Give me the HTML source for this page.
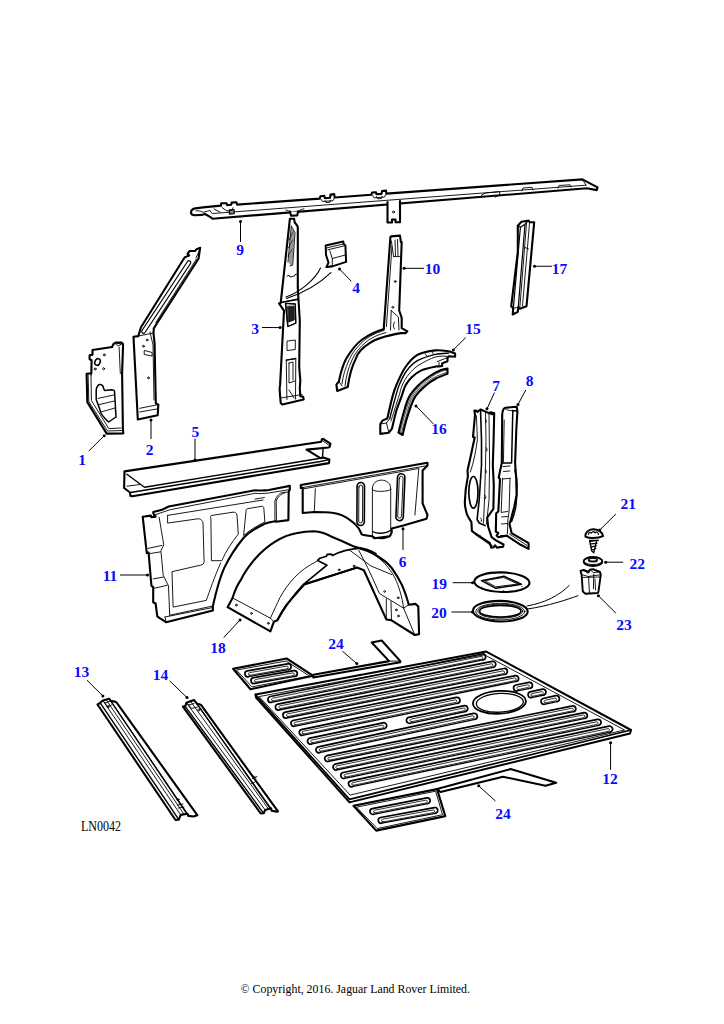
<!DOCTYPE html>
<html><head><meta charset="utf-8">
<style>
html,body{margin:0;padding:0;background:#fff;}
body{width:724px;height:1024px;overflow:hidden;position:relative;}
svg{position:absolute;left:0;top:0;}
.l{font-family:"Liberation Serif",serif;font-weight:bold;font-size:15.5px;fill:#0a0aff;text-anchor:middle;}
.o{fill:#fff;stroke:#000;stroke-width:2.1;stroke-linejoin:round;stroke-linecap:round;}
.t{fill:none;stroke:#000;stroke-width:0.9;stroke-linejoin:round;stroke-linecap:round;}
.m{fill:none;stroke:#000;stroke-width:1.4;stroke-linejoin:round;stroke-linecap:round;}
.ld{fill:none;stroke:#000;stroke-width:1;}
.d{fill:#000;}
.c{font-family:"Liberation Serif",serif;font-size:12px;fill:#000;}
</style></head>
<body>
<svg width="724" height="1024" viewBox="0 0 724 1024">
<g id="p9">
<path class="o" d="M191,212.8 C191,210 193,208.7 195.5,208.4 L203,207.4 L221,205.6 L221.2,203.3 L226.6,203.3 L227,205.1 L231.2,204.7 L231.6,202.6 L236.5,202.3 L237,204.6 L319.7,198.6 L320.5,196.2 L324.3,195.8 L324.9,198.2 L330.1,197.8 L330.5,194.6 L334.2,194.1 L334.6,197.5 L371.3,194.8 L372,192.5 L376,192.2 L376.5,194.3 L381.5,193.9 L382,191 L386,190.6 L386.4,193.6 L582.4,179.4 L597.6,187.4 L596.7,190.1 L586.8,188.3 L212.5,218.7 L210.9,217.4 L205,214 L201.7,214.9 L194.3,215.3 C192,215 191,214 191,212.8 Z"/>
<path class="t" d="M213,213.5 L586,185.2 M582.4,179.4 L586,185.2 M205,214 C203,211.5 200,210.5 196,210.8 M204,212 L210,210.5 L212,213.5 M214,209 L220,212 M222,207.6 L227,211 L232,210.5 L233,207.8 M481.4,197.6 L481.6,195 L485.6,193 L499.4,191.6 L500,194.4 L495.2,197.2 M522,190.8 L523,188 L532,187.3 L533,190 M558,188 L559,185.5 L570,184.8 L571,187 M321,199.2 L322.5,201.5 L333,200.7 L334.2,198.3 M325,200.5 L326,202.5 L330,202.2 L330.5,200.2 M372.6,195.4 L374,197.8 L384.5,197 L385.8,194.5 M376.5,196.6 L377.5,198.8 L381.5,198.5 L382,196.3"/>
<path class="m" d="M229.3,210 L234,209.6 L234.2,213.6 L229.5,214 Z" style="stroke-width:1.3"/>
<path class="o" d="M290,211.6 L291,215.7 L297.3,215.4 L298,211.6"/>
<path class="t" d="M286,210 C288,210.5 289,211 290,211.6 M298,211.6 C300,210 301,209.5 304,208.8"/>
<path class="o" d="M387.5,202 L387.5,222.5 L392,222.5 L392,219.5 L395.5,219.5 L395.5,222.3 L400,222.3 L400,201"/>
<circle class="t" cx="393.5" cy="212" r="1"/>
</g>
<g id="p2">
<path class="o" d="M200.2,247.7 L196.3,249.4 L195.2,251 L189.7,251 L187.5,253.8 L189.1,255.5 L185.2,257.1 L184.1,258.2 L141,327.3 L138.3,336.1 L133.5,336.8 L137.8,419.5 L157.7,415.2 L158.3,404.6 L155.8,403.3 L154.6,343.7 L153.5,333 L153.8,328.4 L156.5,324 L198.5,258.8 Z"/>
<path class="m" style="stroke-width:1.2" d="M187.5,261.5 L142.0,330.5 A1.8,1.8 0 0 0 145.0,332.5 L190.5,263.5 A1.8,1.8 0 0 0 187.5,261.5 Z"/>
<path class="t" d="M196.5,259 L155.8,322.5 M196,258 L199.5,250 M139.7,408.3 L158.3,404.6 M139.7,412 L157,409 M150,332 L153,345 L154,400 M138.5,336 L153.5,333"/>
<circle class="t" cx="147.1" cy="340" r="0.9"/><circle class="t" cx="143.4" cy="346.2" r="0.9"/><circle class="t" cx="148.4" cy="377.9" r="0.9"/>
<path class="t" d="M144.6,350.5 L152.1,352.5 L152.1,356.1 L144.6,354.5 Z"/>
</g>
<g id="p1">
<path class="o" d="M92.5,350 L112.1,347 L113.3,344.1 L115.6,342.6 L121.5,342.6 L123,344.1 L123,347 L122.1,374 L122.9,428.5 L123.3,433.4 L106.7,433.6 L87.3,402.1 L86.6,373.7 L91.3,373.4 L91.6,360.2 L89.6,359.3 L89.6,355.2 L92.5,354.6 Z"/>
<path class="t" d="M88.1,375.1 L88.8,401.5 L107.5,431 L122.9,430.5 M91,375.7 L91.4,400.5 L108.8,428.6 L121,428 M119.1,347 L120.3,373.4 L122.1,374 M91.3,373.4 L91,375.7"/>
<ellipse class="m" cx="97.5" cy="362" rx="2.6" ry="3.4" transform="rotate(25 97.5 362)" style="stroke-width:1.5"/>
<circle class="t" cx="104.2" cy="354.9" r="1"/><circle class="t" cx="95.1" cy="369" r="1"/><circle class="t" cx="103.6" cy="368.7" r="1"/>
<ellipse class="t" cx="118.5" cy="344.4" rx="2.4" ry="1"/>
<path class="m" d="M96.2,389.7 C97,386 99,384.3 100.4,384.5 C102.5,384.8 103.3,386.3 103.6,388 C104,389.5 104.3,390.3 104.5,390.4 L111.5,389.8 C113,389.8 114.3,390.3 114.5,391 L116,417 L108.6,422 C104,418 100,413 99.9,409.6 L96.2,399.6 Z" style="stroke-width:1.5"/>
<path class="t" d="M98,398.4 L114,395 M99,404.6 L114.5,401 M101,412 L115,408"/>
</g>
<g id="p3">
<path class="o" d="M289.9,218.7 L294.1,218.7 L294.6,222.4 C296,224 297.5,225.5 297.8,227.1 L297.8,287.4 L298.3,296.6 L299.8,320.8 L299.2,366.9 L300.3,380.4 L299.8,388.3 L300.3,396.1 L303.1,396.7 L303.7,399.5 L282.4,404.6 L280.7,402.9 L280.1,396.1 L279.6,388.3 L280.1,384.9 L284,310.7 L279,303.4 L280.7,302.9 Z"/>
<path class="t" d="M291.3,226.1 L295,232.6 L292.7,265.1 L290,266 M291.3,226.1 L288,262 M289,240 L293,232 M288.5,248 L292.5,240 M288,256 L292.3,249 M287,276 L289.5,275.5 L290,277 L294.5,276 L295,274.5 L297,274.2 M283,302 L297.5,299 M285.7,303.4 L295.3,304 L295.8,323.1 L288,326.5 Z M288,306.2 L294.2,306.2 L294.2,320 L288.5,322 Z M287.4,341 L295.3,340 L295.3,349.5 L287.4,350.5 Z M286.3,360.2 L295.8,358.5 L295.5,399 M286.3,360.2 L286.9,399.5 M289,363 L293,362 L293,380 M289,363 L289,383 L295,381 M289,390 L294,398 M281,398 L302,394.5"/>
<path d="M288.6,307 L293.6,307 L293.6,319.5 L288.9,321.3 Z" fill="#222" stroke="#000" stroke-width="0.8"/>
<path class="m" d="M285.7,303.4 L295.3,304 L295.8,323.1 L288,326.5 Z M286.3,360.2 L295.8,358.5 M281,302.5 L297.5,299.5" style="stroke-width:1.3"/>
<path d="M291.6,227 L294.5,232.5 L292.5,264.5 L290.2,265.5 L288.5,262 Z" fill="#555" stroke="none" opacity="0.6"/>
</g>
<g id="p4">
<path class="o" d="M325.7,245.4 L343.3,241.6 L343.7,244 L345.4,245.4 L346.1,261.9 L332.3,266.4 L326.4,267.1 L328.5,262.6 L326,255 Z" style="stroke-width:2"/>
<path class="t" d="M327.1,247.8 L343.3,244 M327.8,249.8 L343.7,246 M329.8,250.9 L332.3,258.5 L332.3,266.4 M332.3,258.5 L345.4,255 M326.5,267 L332.3,265.5"/>
<path class="m" d="M320.5,268.1 C315,280 300,292 286,297 M330.9,272.6 C318,285 300,294 286.5,298.5" style="stroke-width:1.1"/>
</g>
<g id="p10">
<path class="o" d="M390.4,237.2 L391,236.4 L400,235.6 L400.9,242.1 L401.7,242.1 L399.2,310.5 L401.7,317.8 L401.7,328.2 L407.3,331.4 L405.7,333.1 L400.9,333.1 C385,336 375,339 370.3,342.7 C362,348 357,354 355.8,358.8 C351,368 349,378 347.7,387 L337.2,391 L336.4,384.6 L338.9,381.4 C341,371 343,365 346.1,358.8 C352,349 356,344 362.2,339.5 C370,334 377,331 383.9,329 L383.9,326.6 Z"/>
<path class="t" d="M392,246.1 L386.4,326.6 M393.6,256.6 L400,256.6 M391.5,241 L392,246.1 L393.6,256.6 M395,240 L395.5,256 M397.5,239.5 L398,256 M391.2,310.5 L398.4,317 L399,330 M391.2,310.5 L390.5,330 M384,330.5 C375,333 368,337 363.5,341 C357,347 352,353 349,360 C345,369 343,376 342,384 M386,332.5 C377,335 371,338 366,342 C360,347 355,353 352,360 C348,369 346,377 345,386 M338.9,381.4 L342,386 M394.5,322 C393,325 393,327 394.5,329"/>
<circle class="t" cx="395.2" cy="281.5" r="0.9"/><circle class="t" cx="392.8" cy="307.3" r="0.9"/>
</g>
<g id="p17">
<path class="o" d="M517.8,225.8 L521.4,221.7 L528.6,220.6 L529.6,222.2 L534.2,222.2 L526.5,306.3 L519.9,308.8 L518.3,307.3 L517.8,311.9 L512.7,314.5 L513.2,308.3 L511.2,306.3 L517.8,251.9 Z"/>
<path class="m" d="M520.4,227.3 L513.5,306.5 M525,224.2 L518.3,307.3 M517.8,225.8 L520.4,227.3 L525,224.2 L528.6,220.6" style="stroke-width:1.2"/>
<path class="t" d="M529.6,222.2 L522.5,306 M526.5,223.5 L519.9,306.8 M525,247.5 L528.5,249 M513.2,308.3 L518.3,307.3"/>
</g>
<g id="p15">
<path class="o" d="M387.4,418 C388.2,414.6 390.8,402.9 392.3,397.4 C393.8,391.9 394.2,390.1 396.4,385 C398.6,379.9 402.0,372.0 405.5,367 C409.0,362.0 412.4,357.7 417.4,354.9 C422.4,352.1 430.1,351.0 435.4,350.4 C440.6,349.8 446.6,351.1 448.9,351.3 L455.1,353.5 L455.1,356.7 L448.9,356.2 L447.5,357.6 L447.5,361.2 L442.1,363.4 L442.1,366 L439,366.5 L437.2,366.2 437.2,366.2 C434.6,366.9 426.1,368.3 421.9,370.1 C417.7,371.9 414.7,374.5 412,377 C409.3,379.5 407.5,381.6 405.7,385 C403.9,388.4 402.8,392.9 401.2,397.4 C399.6,401.9 397.5,406.8 396,412 C394.5,417.2 392.7,425.8 392,428.6 L388.8,432.7 L380.3,433.9 L380.3,424 L382.7,420.4 L386.8,418.7 Z"/>
<path class="m" d="M389.7,418.7 C390.6,415.1 393.8,403.0 395.4,397.4 C397.0,391.8 397.3,389.4 399.2,385 C401.1,380.6 403.5,375.1 406.5,371 C409.5,366.9 412.6,363.5 417.4,360.7 C422.2,357.9 430.1,355.7 435.4,354.4 C440.6,353.1 446.6,353.3 448.9,353.1"/>
<path class="t" d="M391,421 C392.2,417.1 396.6,403.4 398.5,397.4 C400.4,391.4 400.6,388.9 402.3,385 C404.1,381.1 406.2,377.3 409,374 C411.8,370.7 414.6,367.8 419,365 C423.4,362.2 430.7,358.4 435.4,357 C440.1,355.6 445.1,356.4 447,356.3"/>
<path class="t" d="M380.3,424 L386.5,423 L389.7,418.7 M386.5,423 L388.8,432.7 M437.2,361.6 L447.5,357.6 M439,362.5 L439,366.5 M425,353.5 L427,356 M432,352 L433.5,354"/>
</g>
<g id="p16">
<path class="o" d="M398.5,432.7 C399.2,429.8 401.3,420.9 403,415 C404.7,409.1 406.2,402.4 408.8,397.4 C411.4,392.4 415.3,388.6 418.8,385 C422.3,381.4 426.5,378.4 430,376 C433.5,373.6 437.1,371.7 440,370.5 C442.9,369.3 446.2,368.9 447.5,368.6 L447.5,373.7 L447.5,373.7 C445.6,374.5 439.5,376.6 436,378.5 C432.5,380.4 429.9,381.9 426.4,385 C422.8,388.1 417.9,391.9 414.7,397.4 C411.5,402.9 409.0,411.7 407,418 C405.0,424.3 403.3,432.2 402.6,435 Z"/>
<path class="t" d="M399.8,433.4 C400.6,430.5 402.7,421.8 404.5,415.8 C406.3,409.8 408.0,402.5 410.8,397.4 C413.6,392.3 417.8,388.5 421.3,385 C424.8,381.5 428.7,378.8 432,376.5 C435.3,374.2 438.4,372.6 441,371.5 C443.6,370.4 446.4,370.4 447.5,370.2 M401.2,434.2 C402.0,431.3 404.0,422.9 405.9,416.8 C407.8,410.7 409.4,402.7 412.3,397.4 C415.2,392.1 420.0,388.3 423.6,385 C427.2,381.7 430.0,379.7 434,377.5 C438.0,375.3 445.2,372.9 447.5,372" style="stroke-width:0.7"/>
</g>
<g id="p7">
<path class="o" d="M474.4,410.5 L476.7,410.9 L477.4,411.9 L480.5,409.5 L488.4,412.9 L490.8,412.3 L494.2,413.3 L493.6,440 L492.8,465 L493.8,485.2 L493.4,508.9 L490.8,512.5 L487.2,517.7 L488.1,526.5 L491.6,537.1 L495.6,540.1 L503.5,544.5 L503.1,546.7 L496.9,547.6 L495.1,545.4 L493.8,547.2 L491.2,547.6 L489.9,543.2 L474.1,532.7 L471.9,530.9 L471.4,522.1 C468,517 466.5,514 466.2,511.6 C465,507 464.8,504 464.8,501.9 C465,493 466.5,483 467.9,476.4 L467.5,470.4 C470,460 472,450 474.7,437.5 L473,436.9 L475,415 Z"/>
<path class="t" d="M476.4,415.7 L477.4,439.6 C476,450 474,462 470.3,472 M485.5,412 L486,440 L485.5,465 L484.5,500 L483.5,523 M489,413 L489.6,465 L489,500 L486.5,524 M473.2,531.8 L492.5,545.8 M474.8,534.2 L491,545.5 M485.3,419 L486.3,420.5 L486,422.5 M486,447.5 L487,449 L486.8,451 M485.3,469.5 L486.3,471 L486,473 M484.8,495 L485.8,496.5 L485.5,498.5 M480.5,518 L481.5,519.5 L481.2,521.5 M479,537 L480,535.5"/>
<path class="m" d="M480.5,409.5 L481.5,440 L481.5,465 L479.2,500 L477.1,519.5 L479.3,523 L485,525.6 M494.2,413.3 L492.5,414.5 L488.4,412.9" style="stroke-width:1.6"/>
<ellipse class="m" cx="473.4" cy="492.3" rx="4.6" ry="15.8" style="stroke-width:1.7"/>
</g>
<g id="p8">
<path class="o" d="M502.2,414.5 C502.5,410 503.5,408.2 505.5,407.8 L516.7,406.7 L517.4,411.4 L516.3,430 L515.1,462.9 L516.2,478.3 L516.6,494.9 L514.1,507.4 L510.8,519.8 L509.5,524 L511.6,533.1 L528.6,543.1 L528.6,548.9 L520.7,544.8 L506.6,535.6 L498.3,537.3 L496.6,535.6 L498.3,533.1 L495.8,531.5 L496.2,513.2 L498.3,511.5 L500,479.1 L498.7,477.5 L501.8,462.9 Z"/>
<path class="m" d="M512.8,410.6 L511.6,462.9 M517,411 L512.8,410.6 M501.8,462.9 L511.6,462.9 M514.9,470 C516.5,476 517.2,482 517,486.6 C516.8,495 516.5,502 515.7,507.4 C514.5,513 513,518 511.6,521.5" style="stroke-width:1.5"/>
<path class="t" d="M504.2,420 L503.4,462.2 M505,408.5 C507,410.5 510,410.8 512.8,410.6 M502.5,478.3 L501.2,511.5 M510,478.3 L509.1,511.5 L507.9,519.8 L507.4,534 M501.2,512.4 L507.9,511.5 M502.5,479 L510,478.3 M503,466.5 L510,466 M503.5,471.5 L509.8,471 M501.5,517 L507.5,516.5 M501.5,524 L507.5,523.5 M509.5,534 L527,545.5 M500.5,535.5 L506.6,535.6"/>
</g>
<g id="p5">
<path class="o" d="M124.5,471.4 L321.4,441.7 L321.8,439.3 L323.1,438.9 L330.4,443.7 L329.7,446.8 L328.7,447.5 L306.6,449.6 L320.4,458.2 L323.1,457.6 L329.4,459.6 L329,463.1 L132.4,496.3 L130.4,495.9 L130,492.5 L124.1,488 Z"/>
<path class="m" d="M126.9,474.2 L144.5,487.3 L320.4,458.2 M323.1,449.3 L322.5,456.9 M130.4,492.5 L320.4,461.5 L329.4,459.6" style="stroke-width:1.4"/>
<path class="t" d="M126.9,486.2 L140,484.5 M323.1,441 L328.7,445.1"/>
</g>
<g id="p6">
<path class="o" d="M300.8,485 L427.5,462.7 L427.5,465.6 L422.6,470.5 L422.6,503.3 L427.5,515 L426.5,518.8 L403.3,525.6 L391.7,528.5 L391.7,532.4 L389.8,536.2 L374.3,538.2 L372.4,536.2 C366,535.5 363,535 361.7,534.3 C360,531 359.5,529.5 358.8,528.5 C356,524.5 353,522 351.1,520.8 C345,516 340,514 333.7,513 C326,512 320,512 314.3,512 L302.7,513 L302.7,487.9 L300.8,487.9 Z"/>
<path class="t" d="M303.7,488.8 L418.8,468.5 L414.9,515 M300.8,487.9 L427.5,465.6 M315.3,488.8 L314.3,512 M372.4,488.8 L372.4,536.2 M390.7,488.8 L390.7,531 M372.4,488.8 C372.4,483 376,480.5 381.5,480.1 C387,480.5 390.7,483 390.7,488.8"/>
<path class="m" style="stroke-width:1.6" d="M357.1,486.2 L356.9,521.8 A3.7,3.7 0 0 0 364.3,521.8 L364.5,486.2 A3.7,3.7 0 0 0 357.1,486.2 Z M397.5,477.3 L395.9,516.9 A3.7,3.7 0 0 0 403.3,517.1 L404.9,477.5 A3.7,3.7 0 0 0 397.5,477.3 Z"/>
<path class="t" d="M358.9,487.0 L358.7,521.0 A1.9,1.9 0 0 0 362.5,521.0 L362.7,487.0 A1.9,1.9 0 0 0 358.9,487.0 Z M399.3,478.1 L397.7,516.1 A1.9,1.9 0 0 0 401.5,516.3 L403.1,478.3 A1.9,1.9 0 0 0 399.3,478.1 Z"/>
<path class="t" d="M372.4,490 C376,492 387,492 390.7,489.5"/>
<path class="m" d="M372.6,531.5 C377,534 386,534 390.5,530.5 M372.4,536.2 C377,539.5 386,539.5 390.7,535.3" style="stroke-width:1.3"/>
</g>
<g id="p11">
<path class="o" d="M153.3,512 L162.1,509.8 L168.7,506.5 L255,490.3 C260,490.6 265,490.6 268.8,490 L289.8,485.9 L289.8,489.5 L288.7,492 L288.4,520.1 L276,521.8 L275.2,521.2 C268,522.5 266,523 263.8,524.2 C254,529 249,532 243.9,537.5 C235,548 229,558 224,568.4 C219,580 216,592 212.9,606 L212.9,610.4 L166.1,622.2 L159.7,618.1 L157.3,616.4 L155.6,603.5 L153.2,602.3 L153.2,587.1 L151.5,585.9 L150.9,580 L148.6,552.5 L146.8,553.1 L142.7,516.7 L150.9,515.6 L151.5,517.3 L155.6,516.7 L153.3,513.5 Z"/>
<path class="t" d="M153.3,515.4 L169.8,509.8 L255,493.3 C260,493.8 265,493.5 268.8,493 L289.8,489.5 M159.1,517.3 L163.8,544.9 L160.9,550.7 L163.2,575.3 L168.5,585.9 L169.7,615.2 M169.7,615.2 L212.9,606 M148,548.4 L162,545.4 M149.1,553.7 L160.3,551.9 M153.2,578.9 L163.2,577.1 M154.4,588.2 L167.3,585.3 M165,617 L212.9,607.5 M166.1,622.2 L165,617 M274.9,521 L274.9,501.3 C275.5,498 277.5,495.5 280.4,493.2 C282,492.5 284,492.3 285.9,492.2 L288.7,492 M276.5,521 L276.2,501.3 C277,498.5 278.7,496.5 280.8,494.7 C282.5,493.6 284,493.1 285,492.8 M255,499.1 L264.4,497.5"/>
<path class="t" d="M167.6,515.4 L167.6,523.1 L198.6,518.7 C201,519 203,521 203,523.1 L204.1,561.8 C204,563.5 202.5,565 200.8,565.1 L172,571.7 L173.1,607.1 L206.3,600.4 C210,590 214,578 220.7,562.9 M167.6,515.4 L263,500 M210.7,518 C210,516.5 211,515.5 212,515.4 L233,512.2 C235,512 236.8,513 237,515 L238.3,534.1 C232,542 226,551 221.8,560.7 L211.8,560.7 Z M246.1,510 C246,509 247,508.7 248,508.6 L261.8,506.3 C263,506.2 263.8,507 263.8,508 L264.9,522 C256,526 249,531 243.9,535.2 Z"/>
</g>
<g id="p18">
<path class="o" d="M227.6,607.2 L232.4,598.2 C235,590 238,584 240.7,580.2 C245,571 250,565 254.5,559.5 C261,552 268,546 275.2,541.6 C282,537.5 289,534.5 296,533.3 C302,532 308,531.2 313.9,531.2 C320,531.5 326,533.5 330.5,536.2 C338,539 345,542.5 352.6,545.9 C360,548.5 367,550.5 373,553.5 C381,558 387,562 391.5,567.6 C396,574 399.5,580 401.9,584.9 C404,590 406,595 407,598.7 L408.8,604.7 L415.7,603.9 L418.3,606.5 L419.1,634.1 L414.8,635 L391.5,620.3 L386.3,619.4 L363.9,570.2 L357,567.6 L304.3,584.4 C297,592 291,600 286.3,605.1 C283,610 280,615 277.3,620.3 L273.9,621.7 L270.4,631.4 Z"/>
<path class="t" d="M233.1,598.2 L270.4,618.2 L273.9,621.7 M270.4,618.2 C274,610 277,604 280,597.5 C288,583 299,570 316.5,561.5 M350,550.4 L370.8,565.9 L391.5,574.5 M358.7,550.4 C364,560 370,572 379.4,593.5 L403.6,608.2 L408.8,604.7 M386.3,598.7 L386.3,619.4 M391,601.5 L391.5,620.3 M403.6,608.2 L414.8,635 M360.4,547.5 C375,553 387,563 395,578 C399,587 402,596 403.6,608.2"/>
<path class="m" style="stroke-width:1.7" d="M277.3,620.3 C283,610 292,597 303.8,584.2 L327,565.2 L317.6,560.4 L319.9,558.2 L326.4,556.2 L327.3,554.4 L331.5,554.2 L332.5,555.6 C340,551.5 350,549 360,548.2 C366,548.5 371,551 376,553.8 M303.8,584.2 L357,567.6"/>
<circle class="t" cx="236.3" cy="605.1" r="0.9"/><circle class="t" cx="251.5" cy="613.4" r="0.9"/><circle class="t" cx="268.3" cy="623.3" r="0.9"/>
<circle class="t" cx="339.1" cy="569.8" r="0.9"/><circle class="t" cx="354" cy="566" r="0.9"/><circle class="t" cx="384.6" cy="591.5" r="0.9"/><circle class="t" cx="398.1" cy="597.8" r="0.9"/><circle class="t" cx="396.3" cy="610" r="0.9"/><circle class="t" cx="398.4" cy="616" r="0.9"/>
</g>
<g id="p13"><path class="o" d="M97.5,704.5 L100.2,702.8 L102.8,700.4 L109.1,698.7 L110.7,700.8 L114.9,701.6 L116.5,702.4 L197.3,815.2 L193.5,816.5 L188.3,815.9 L187.6,813.8 L180.7,814.9 L178.8,819.6 L175.5,820 Z"/><path class="m" d="M100.2,702.8 L178.8,819.6"/><path class="t" d="M102.8,700.4 L180.7,814.9"/><path class="t" d="M109.1,698.7 L187.6,813.8"/><path class="m" d="M110.7,700.8 L188.3,815.9"/><path class="t" d="M106,699.5 L184,814.3 M102.8,700.4 L105,703 L110.7,700.8 M105,703 L107,706.5 L111.5,705"/><circle class="t" cx="108" cy="706.8" r="1"/><circle class="t" cx="178" cy="799.7" r="1"/><path class="t" d="M177.5,805 L183,804 M178.5,808 L184,807"/></g>
<g id="p14"><path class="o" d="M182.9,706.6 L185.2,706.3 L186.4,702.8 L194,700 L197.1,703.8 L200.2,704.5 L201.2,705.2 L278,811.4 L276.5,811.6 L271.8,810.7 L271.1,808.3 L265.2,810 L263.6,813.3 L260.7,813.5 Z"/><path class="m" d="M185.2,706.3 L263.6,813.3"/><path class="t" d="M186.4,702.8 L265.2,810"/><path class="t" d="M194,700 L271.1,808.3"/><path class="m" d="M197.1,703.8 L271.8,810.7"/><path class="t" d="M190.5,701.3 L268.5,809 M186.4,702.8 L189,705 L194,703.5 M189,705 L191.5,708.5 L197.5,707"/><circle class="t" cx="198.8" cy="710" r="1"/><path class="t" d="M250.5,774 L256,778 M252.5,778.5 L257,776.5 M251.5,783.5 L255,782"/></g>
<g id="p19">
<ellipse class="o" cx="501.9" cy="582.2" rx="27.6" ry="9.8" transform="rotate(1.5 501.9 582.2)"/>
<path class="m" d="M481.5,580.7 L503.9,576.2 L521.4,584.3 L495.8,588.3 Z" style="stroke-width:1.5"/>
<path class="t" d="M485,580.5 L503.5,577.5 L518,584 L496,586.8 Z"/>
<circle class="d" cx="500.5" cy="572.8" r="0.6"/><circle class="d" cx="482" cy="587" r="0.6"/><circle class="d" cx="503.5" cy="590.8" r="0.6"/><circle class="d" cx="522" cy="586.5" r="0.6"/>
</g>
<g id="p20">
<ellipse class="o" cx="500.3" cy="611.2" rx="27.4" ry="10.3" transform="rotate(1 500.3 611.2)"/>
<ellipse class="t" cx="500.3" cy="611.6" rx="24.5" ry="8.3"/>
<ellipse class="t" cx="500.3" cy="611.2" rx="22.5" ry="7"/>
<ellipse class="m" cx="500.3" cy="611.2" rx="20.7" ry="5.9" style="stroke-width:1.7"/>
<path class="m" d="M527,606 C545,603 560,595 569.2,585.5 M527.5,609 C548,606 566,600 578,595.7" style="stroke-width:1"/>
</g>
<g id="p21">
<path class="o" d="M585.4,536.6 C585,533 588,529.5 593,529.3 C598,529.2 602.5,532 603.1,536.2 C600,537.6 596,538 593,538 C590,538 587.5,537.7 585.4,536.6 Z" style="stroke-width:1.9"/>
<path class="m" d="M588.3,534.3 C589,532 590.5,531.8 591.5,533 C592.5,531.3 594,531.3 595,532.8 C596,531.5 598,532 598.5,534.3" style="stroke-width:1.2"/>
<path class="m" d="M589.8,540.3 L598.4,540.3 M589.6,540.5 L591.8,551 L593.75,552.8 L596.5,541 M589.5,541.5 L597.8,540.2 M590,544.2 L597,543 M590.7,547.2 L596.3,545.8 M591.3,550 L595.8,548.6" style="stroke-width:1.3"/>
</g>
<g id="p22">
<ellipse class="o" cx="593" cy="561.5" rx="9.4" ry="4.5" style="stroke-width:1.9"/>
<path class="t" d="M583.8,561.5 C585,563.5 589,564.5 593,564.5 C597,564.5 601,563.5 602.2,561.5"/>
<ellipse cx="592.9" cy="559.9" rx="4.4" ry="1.7" fill="#fff" stroke="#000" stroke-width="1.6"/>
<path d="M589,560.5 C591,561.6 595,561.6 597,560.5" stroke="#000" stroke-width="1.1" fill="none"/>
</g>
<g id="p23">
<path class="o" d="M580.5,570.8 L583.6,570 L588.7,572 L589.8,569.6 L593,569.2 L600,572 L600.8,574.7 L598.4,591.9 L597.7,593 L585.5,593.8 L582.8,591.5 L581.6,574.7 Z" style="stroke-width:1.9"/>
<path class="t" d="M581.6,574.7 L588.5,576.5 L600.8,574.7 M582.8,577.4 L600,577 M588.5,576.5 L589.5,593.5 M593.75,573.9 L593.4,588.75 M590,569.8 L593.5,572.5 L600,572 M583.6,570 L588,573.5 M595,579 L595.5,590"/>
</g></g>
<g id="p12">
<path class="o" d="M255.5,694.5 L486.2,651.6 L631,730 L630,733.5 L349.5,802.4 L256.0,697.5 Z" style="stroke-width:2"/>
<path class="m" style="stroke-width:1.7" d="M255.5,694.5 L349.5,799.4 L631,730" />
<path class="t" d="M259.5,696.5 L484.5,654.8 L624.5,730 L350.5,795 Z"/>
<path class="t" style="stroke-width:1.3" d="M271.5,702.4 L483.1,659.9 M279.0,710.0 L493.3,667.3 M286.5,718.0 L504.9,674.4 M294.1,726.3 L516.7,681.4 M302.4,735.4 L457.5,703.3 M311.2,744.1 L384.3,728.7 M410.1,723.3 L465.8,711.5 M319.6,752.7 L474.9,719.3 M327.9,761.5 L573.9,711.7 M336.2,770.0 L585.4,718.4 M344.5,778.4 L598.7,725.3 M352.2,786.7 L610.2,732.1 M517.2,690.9 L530.0,688.3 M531.3,697.7 L544.0,695.0 M544.3,704.3 L557.0,701.6"/>
<path class="m" style="stroke-width:1.7" d="M483.1,659.9 A3.0,3.0 0 0 0 482.0,654.0 L270.4,696.5 A3.0,3.0 0 0 0 271.5,702.4 M493.3,667.3 A3.0,3.0 0 0 0 492.2,661.4 L277.9,704.1 A3.0,3.0 0 0 0 279.0,710.0 M504.9,674.4 A3.0,3.0 0 0 0 503.8,668.5 L285.4,712.1 A3.0,3.0 0 0 0 286.5,718.0 M516.7,681.4 A3.0,3.0 0 0 0 515.5,675.6 L292.9,720.5 A3.0,3.0 0 0 0 294.1,726.3 M457.5,703.3 A3.0,3.0 0 0 0 456.3,697.4 L301.2,729.6 A3.0,3.0 0 0 0 302.4,735.4 M384.3,728.7 A3.0,3.0 0 0 0 383.0,722.8 L309.9,738.2 A3.0,3.0 0 0 0 311.2,744.1 M465.8,711.5 A3.0,3.0 0 0 0 464.5,705.7 L408.8,717.4 A3.0,3.0 0 0 0 410.1,723.3 M474.9,719.3 A3.0,3.0 0 0 0 473.6,713.4 L318.3,746.8 A3.0,3.0 0 0 0 319.6,752.7 M573.9,711.7 A3.0,3.0 0 0 0 572.7,705.9 L326.7,755.7 A3.0,3.0 0 0 0 327.9,761.5 M585.4,718.4 A3.0,3.0 0 0 0 584.2,712.6 L335.0,764.2 A3.0,3.0 0 0 0 336.2,770.0 M598.7,725.3 A3.0,3.0 0 0 0 597.4,719.4 L343.2,772.5 A3.0,3.0 0 0 0 344.5,778.4 M610.2,732.1 A3.0,3.0 0 0 0 608.9,726.2 L350.9,780.8 A3.0,3.0 0 0 0 352.2,786.7 M530.0,688.3 A3.0,3.0 0 0 0 528.8,682.4 L516.0,685.0 A3.0,3.0 0 0 0 517.2,690.9 M544.0,695.0 A3.0,3.0 0 0 0 542.7,689.2 L530.0,691.9 A3.0,3.0 0 0 0 531.3,697.7 M557.0,701.6 A3.0,3.0 0 0 0 555.7,695.7 L543.0,698.5 A3.0,3.0 0 0 0 544.3,704.3"/>
<path class="t" style="stroke-width:0.8" d="M272.8,700.9 L481.6,659.1 A1.35,1.35 0 0 0 481.1,656.4 L272.3,698.3 A1.35,1.35 0 0 0 272.8,700.9 Z M280.3,708.5 L491.8,666.5 A1.35,1.35 0 0 0 491.3,663.8 L279.8,705.9 A1.35,1.35 0 0 0 280.3,708.5 Z M287.8,716.5 L503.4,673.6 A1.35,1.35 0 0 0 502.9,670.9 L287.3,713.9 A1.35,1.35 0 0 0 287.8,716.5 Z M295.4,724.9 L515.1,680.6 A1.35,1.35 0 0 0 514.6,677.9 L294.9,722.3 A1.35,1.35 0 0 0 295.4,724.9 Z M303.7,734.0 L455.9,702.4 A1.35,1.35 0 0 0 455.4,699.8 L303.2,731.3 A1.35,1.35 0 0 0 303.7,734.0 Z M312.4,742.7 L382.7,727.9 A1.35,1.35 0 0 0 382.2,725.2 L311.9,740.0 A1.35,1.35 0 0 0 312.4,742.7 Z M411.3,721.8 L464.2,710.7 A1.35,1.35 0 0 0 463.7,708.0 L410.8,719.2 A1.35,1.35 0 0 0 411.3,721.8 Z M320.8,751.3 L473.3,718.4 A1.35,1.35 0 0 0 472.8,715.8 L320.3,748.6 A1.35,1.35 0 0 0 320.8,751.3 Z M329.2,760.1 L572.3,710.9 A1.35,1.35 0 0 0 571.8,708.2 L328.7,757.5 A1.35,1.35 0 0 0 329.2,760.1 Z M337.5,768.6 L583.8,717.6 A1.35,1.35 0 0 0 583.3,714.9 L337.0,765.9 A1.35,1.35 0 0 0 337.5,768.6 Z M345.7,777.0 L597.1,724.4 A1.35,1.35 0 0 0 596.6,721.8 L345.2,774.3 A1.35,1.35 0 0 0 345.7,777.0 Z M353.4,785.3 L608.6,731.2 A1.35,1.35 0 0 0 608.1,728.6 L352.9,782.6 A1.35,1.35 0 0 0 353.4,785.3 Z M518.5,689.5 L528.4,687.4 A1.35,1.35 0 0 0 527.9,684.8 L518.0,686.8 A1.35,1.35 0 0 0 518.5,689.5 Z M532.5,696.3 L542.4,694.2 A1.35,1.35 0 0 0 541.9,691.6 L532.0,693.6 A1.35,1.35 0 0 0 532.5,696.3 Z M545.5,702.9 L555.4,700.8 A1.35,1.35 0 0 0 554.9,698.1 L545.0,700.3 A1.35,1.35 0 0 0 545.5,702.9 Z"/>
<ellipse class="m" cx="499.4" cy="702.3" rx="26.5" ry="11.4" transform="rotate(-3 499.4 702.3)" style="stroke-width:1.8"/>
<ellipse class="t" cx="499.8" cy="702.8" rx="23.5" ry="9.4" transform="rotate(-3 499.4 702.3)" style="stroke-width:1.3"/>
</g>
<g id="p24a">
<path class="o" d="M233.1,668.7 L286.6,658.5 L313.3,675.8 L250.5,689.2 Z"/>
<path class="t" d="M236.8,670 L286,661 L309.5,676 L252.4,686.8 Z"/>
<path class="t" style="stroke-width:1.3" d="M248.4,676.7 L288.6,669.6"/><path class="m" style="stroke-width:1.7" d="M288.6,669.6 A2.9,2.9 0 0 0 287.6,663.8 L247.4,670.9 A2.9,2.9 0 0 0 248.4,676.7"/><path class="t" style="stroke-width:0.8" d="M249.8,675.3 L287.0,668.8 A1.35,1.35 0 0 0 286.6,666.1 L249.3,672.7 A1.35,1.35 0 0 0 249.8,675.3 Z"/><path class="t" style="stroke-width:1.3" d="M254.5,683.5 L294.8,676.4"/><path class="m" style="stroke-width:1.7" d="M294.8,676.4 A2.9,2.9 0 0 0 293.8,670.6 L253.5,677.7 A2.9,2.9 0 0 0 254.5,683.5"/><path class="t" style="stroke-width:0.8" d="M255.9,682.1 L293.2,675.6 A1.35,1.35 0 0 0 292.8,672.9 L255.4,679.5 A1.35,1.35 0 0 0 255.9,682.1 Z"/>
<path class="o" d="M313.3,674.8 L389.1,661.1 L371.7,642.5 L381.7,640.5 L400.3,661.1 L400.3,662.3 L313.3,677.5 Z"/>
<path class="t" d="M389.1,661.1 L400.3,661.1"/>
</g>
<g id="p24b">
<path class="o" d="M353.5,805.7 L437,789.1 L445.3,816.1 L376.2,830.6 Z"/>
<path class="t" d="M356.9,807.1 L435.6,791.2 L442.5,814.7 L377.6,828.5 Z"/>
<path class="t" style="stroke-width:1.3" d="M373.4,814.3 L427.8,803.6"/><path class="m" style="stroke-width:1.7" d="M427.8,803.6 A2.9,2.9 0 0 0 426.7,797.9 L372.3,808.6 A2.9,2.9 0 0 0 373.4,814.3"/><path class="t" style="stroke-width:0.8" d="M374.8,812.9 L426.2,802.9 A1.35,1.35 0 0 0 425.7,800.2 L374.3,810.3 A1.35,1.35 0 0 0 374.8,812.9 Z"/><path class="t" style="stroke-width:1.3" d="M381.7,823.2 L435.4,813.3"/><path class="m" style="stroke-width:1.7" d="M435.4,813.3 A2.9,2.9 0 0 0 434.3,807.6 L380.6,817.5 A2.9,2.9 0 0 0 381.7,823.2"/><path class="t" style="stroke-width:0.8" d="M383.1,821.9 L433.8,812.5 A1.35,1.35 0 0 0 433.3,809.9 L382.6,819.2 A1.35,1.35 0 0 0 383.1,821.9 Z"/>
<path class="o" d="M437,789.1 L510.6,769.1 L556.2,782.8 L545.5,785.8 L503,776.7 L440.5,792 Z"/>
</g>
<g id="leaders">
<path class="ld" d="M240.5,221 L240.5,242 M88.75,451 L104.2,435.7 M151,420 L151,439 M195,438.75 L195,460 M262,327.5 L280.1,327.6 M339.5,269 L351.3,281.3 M404.1,268.3 L424,268.3 M534.5,266.25 L552,266.25 M453.3,349.9 L465.75,337.5 M416,405.9 L433.4,423.9 M487,408.75 L494.5,392.5 M518,404.5 L525.75,390 M403,528.75 L403,550 M120,575 L147.5,575 M223.75,637.5 L240,620 M452.7,582.7 L472.5,582.7 M451.5,612 L472.5,612 M599.8,530 L615.9,514 M605.7,562.2 L623.2,562.2 M598.4,595.7 L615.9,613.2 M342.5,651.25 L356.8,663.6 M610.6,742.8 L610.6,769.8 M478.7,785.8 L495.4,801 M87,680.2 L102.9,696 M169.6,680.8 L187,697.6"/>
</g>
<g class="d">
<circle cx="240.5" cy="221.5" r="1.5"/><circle cx="104.2" cy="435.7" r="1.5"/><circle cx="151" cy="420" r="1.5"/><circle cx="195" cy="460" r="1.5"/><circle cx="280.1" cy="327.6" r="1.5"/><circle cx="339.5" cy="269" r="1.5"/><circle cx="404.1" cy="268.3" r="1.5"/><circle cx="534.5" cy="266.25" r="1.5"/><circle cx="453.3" cy="349.9" r="1.5"/><circle cx="416" cy="405.9" r="1.5"/><circle cx="487" cy="408.75" r="1.5"/><circle cx="518" cy="404.5" r="1.5"/><circle cx="403" cy="528.75" r="1.5"/><circle cx="147.5" cy="575" r="1.5"/><circle cx="240" cy="620" r="1.5"/><circle cx="472.5" cy="582.7" r="1.5"/><circle cx="472.5" cy="612" r="1.5"/><circle cx="599.8" cy="530" r="1.5"/><circle cx="605.7" cy="562.2" r="1.5"/><circle cx="598.4" cy="595.7" r="1.5"/><circle cx="356.8" cy="663.6" r="1.5"/><circle cx="610.6" cy="742.8" r="1.5"/><circle cx="478.7" cy="785.8" r="1.5"/><circle cx="102.9" cy="696" r="1.5"/><circle cx="187" cy="697.6" r="1.5"/>
</g>
<text class="l" x="82" y="465">1</text>
<text class="l" x="149.5" y="455">2</text>
<text class="l" x="255" y="334">3</text>
<text class="l" x="356" y="292.5">4</text>
<text class="l" x="195.3" y="436.8">5</text>
<text class="l" x="402.5" y="566.5">6</text>
<text class="l" x="496" y="391">7</text>
<text class="l" x="529.5" y="386">8</text>
<text class="l" x="240" y="255">9</text>
<text class="l" x="432.5" y="274">10</text>
<text class="l" x="110" y="581">11</text>
<text class="l" x="610" y="784">12</text>
<text class="l" x="81.5" y="676.5">13</text>
<text class="l" x="160.4" y="680.3">14</text>
<text class="l" x="473" y="334">15</text>
<text class="l" x="439" y="434">16</text>
<text class="l" x="559.5" y="274">17</text>
<text class="l" x="218" y="653.4">18</text>
<text class="l" x="439.3" y="588.5">19</text>
<text class="l" x="439" y="617.6">20</text>
<text class="l" x="628.3" y="509.4">21</text>
<text class="l" x="637.2" y="568.9">22</text>
<text class="l" x="624" y="630">23</text>
<text class="l" x="336" y="649">24</text>
<text class="l" x="503" y="818.5">24</text>
<text class="c" x="80.9" y="831.3" style="font-size:14px" textLength="40.1" lengthAdjust="spacingAndGlyphs">LN0042</text>
<text class="c" x="240.6" y="992.8" style="font-size:12.8px" textLength="229.4" lengthAdjust="spacingAndGlyphs">© Copyright, 2016. Jaguar Land Rover Limited.</text>
</svg>
</body></html>
